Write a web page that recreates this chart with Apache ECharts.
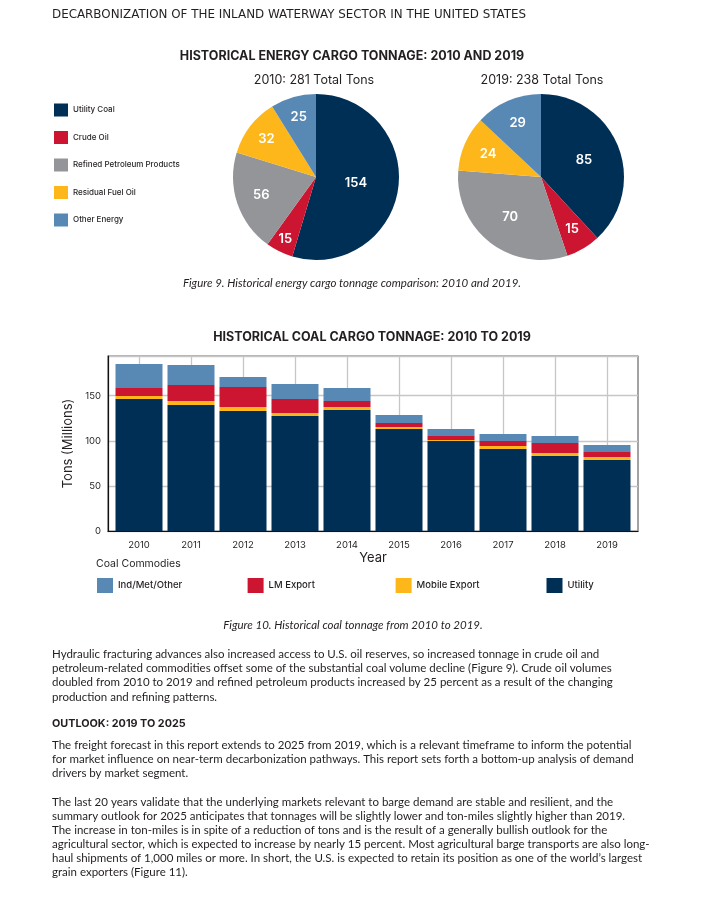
<!DOCTYPE html>
<html><head><meta charset="utf-8">
<script src="https://cdn.jsdelivr.net/npm/echarts@6/dist/echarts.min.js"></script>
<style>html,body{margin:0;padding:0;background:#fff;}#c{width:707px;height:909px;}</style>
</head><body><div id="c"></div>
<script>
// ---- data ----
const energyCategories = ['Utility Coal', 'Crude Oil', 'Refined Petroleum Products', 'Residual Fuel Oil', 'Other Energy'];
const tons2010 = [154, 15, 56, 32, 25];
const tons2019 = [85, 15, 70, 24, 29];

const years = ['2010', '2011', '2012', '2013', '2014', '2015', '2016', '2017', '2018', '2019'];
const utility = [146.3, 139.7, 133.0, 127.5, 134.1, 113.1, 99.8, 90.9, 83.1, 78.7];
const mobileExport = [3.4, 4.4, 4.5, 3.3, 3.4, 2.2, 1.1, 3.3, 3.4, 3.3];
const lmExport = [8.8, 17.8, 22.1, 15.5, 6.6, 4.4, 4.4, 5.6, 11.1, 5.6];
const indMetOther = [26.6, 22.1, 11.1, 16.7, 14.4, 8.9, 7.8, 7.7, 7.7, 7.7];
const yTicks = [0, 50, 100, 150];

// ---- styles / layout ----
const C = { navy: '#002F56', red: '#CC1531', gray: '#949599', yellow: '#FDB71A', blue: '#5889B5' };
const pieColors = [C.navy, C.red, C.gray, C.yellow, C.blue];
const TXT = '#231f20';
const GRIDLINE = '#c6c6c6';
const HEAD = 'Inter, "Open Sans", sans-serif';
const WIDE = '"DejaVu Sans", Inter, sans-serif';
const BODY = 'Lato, "Open Sans", sans-serif';
const R = 83;
const labelFrac2010 = [0.45, 0.8, 0.66, 0.72, 0.72];
const labelFrac2019 = [0.52, 0.7, 0.57, 0.66, 0.67];

function pieSeries(values, center, fracs) {
  const out = [{
    type: 'pie', center: center, radius: [0, R], startAngle: 90, clockwise: true,
    silent: true, label: { show: false }, labelLine: { show: false },
    data: values.map((v, i) => ({ name: energyCategories[i], value: v, itemStyle: { color: pieColors[i] } }))
  }];
  values.forEach((_, k) => {
    out.push({
      type: 'pie', center: center, radius: [0, 2 * fracs[k] * R], startAngle: 90, clockwise: true,
      silent: true, z: 5, labelLine: { show: false },
      itemStyle: { color: 'rgba(0,0,0,0)' },
      data: values.map((v, i) => ({
        name: energyCategories[i], value: v,
        itemStyle: { color: 'rgba(0,0,0,0)' },
        label: { show: i === k, position: 'inside', formatter: '{c}', color: '#fff', fontSize: 13, fontWeight: 600, fontFamily: HEAD }
      }))
    });
  });
  return out;
}

function textEl(x, y, text, font) {
  return {
    type: 'text', x: x, y: y, silent: true,
    style: Object.assign({ text: text, fill: TXT, align: 'left', verticalAlign: 'middle' }, font)
  };
}

const body = { fontFamily: BODY, fontSize: 11.5 };
const graphics = [];
graphics.push(textEl(52, 15, 'DECARBONIZATION OF THE INLAND WATERWAY SECTOR IN THE UNITED STATES', { fontFamily: WIDE, fontSize: 11.9 }));
graphics.push(textEl(352, 56, 'HISTORICAL ENERGY CARGO TONNAGE: 2010 AND 2019', { fontFamily: HEAD, fontSize: 12.5, fontWeight: 700, align: 'center' }));
graphics.push(textEl(314, 80, '2010: 281 Total Tons', { fontFamily: HEAD, fontSize: 12.5, align: 'center' }));
graphics.push(textEl(542, 80, '2019: 238 Total Tons', { fontFamily: HEAD, fontSize: 12.5, align: 'center' }));
graphics.push(textEl(352, 283, 'Figure 9. Historical energy cargo tonnage comparison: 2010 and 2019.', { fontFamily: BODY, fontSize: 11.5, fontStyle: 'italic', align: 'center' }));
graphics.push(textEl(372, 337, 'HISTORICAL COAL CARGO TONNAGE: 2010 TO 2019', { fontFamily: HEAD, fontSize: 12.5, fontWeight: 700, align: 'center' }));
graphics.push(textEl(96, 564, 'Coal Commodies', { fontFamily: HEAD, fontSize: 10.5 }));
graphics.push(textEl(353, 625, 'Figure 10. Historical coal tonnage from 2010 to 2019.', { fontFamily: BODY, fontSize: 11.5, fontStyle: 'italic', align: 'center' }));

const p1 = [
  'Hydraulic fracturing advances also increased access to U.S. oil reserves, so increased tonnage in crude oil and',
  'petroleum-related commodities offset some of the substantial coal volume decline (Figure 9). Crude oil volumes',
  'doubled from 2010 to 2019 and refined petroleum products increased by 25 percent as a result of the changing',
  'production and refining patterns.'
];
const p2 = [
  'The freight forecast in this report extends to 2025 from 2019, which is a relevant timeframe to inform the potential',
  'for market influence on near-term decarbonization pathways. This report sets forth a bottom-up analysis of demand',
  'drivers by market segment.'
];
const p3 = [
  'The last 20 years validate that the underlying markets relevant to barge demand are stable and resilient, and the',
  'summary outlook for 2025 anticipates that tonnages will be slightly lower and ton-miles slightly higher than 2019.',
  'The increase in ton-miles is in spite of a reduction of tons and is the result of a generally bullish outlook for the',
  'agricultural sector, which is expected to increase by nearly 15 percent. Most agricultural barge transports are also long-',
  'haul shipments of 1,000 miles or more. In short, the U.S. is expected to retain its position as one of the world\u2019s largest',
  'grain exporters (Figure 11).'
];
p1.forEach((l, i) => graphics.push(textEl(52, 654 + i * 14.3, l, body)));
graphics.push(textEl(52, 724, 'OUTLOOK: 2019 TO 2025', { fontFamily: HEAD, fontSize: 10.8, fontWeight: 700 }));
p2.forEach((l, i) => graphics.push(textEl(52, 745 + i * 14.3, l, body)));
p3.forEach((l, i) => graphics.push(textEl(52, 802.7 + i * 14, l, body)));

const barLegendPos = [97, 247.6, 395.6, 546.5];
const barNames = ['Ind/Met/Other', 'LM Export', 'Mobile Export', 'Utility'];
const barLegends = barNames.map((n, i) => ({
  data: [n], left: barLegendPos[i], top: 578, padding: 0, itemWidth: 16, itemHeight: 15, icon: 'rect',
  selectedMode: false, textStyle: { fontFamily: HEAD, fontSize: 9.5, color: TXT, fontWeight: 500 }
}));

// helper grid spanning first to last category centre, for the vertical gridlines
const catStep = 520 / years.length;

const option = {
  animation: false,
  backgroundColor: '#fff',
  legend: [{
    data: energyCategories, orient: 'vertical', left: 54, top: 103.5, padding: 0, itemWidth: 14, itemHeight: 13,
    itemGap: 14.5, icon: 'rect', selectedMode: false,
    textStyle: { fontFamily: HEAD, fontSize: 8, color: TXT, fontWeight: 500 }
  }].concat(barLegends),
  grid: [
    { left: 108, top: 356, width: 530, height: 175, show: true, borderColor: '#666', borderWidth: 1.2 },
    { left: 113, top: 356, width: 520, height: 175 },
    { left: 113 + catStep / 2, top: 356, width: 520 - catStep, height: 175 }
  ],
  xAxis: [
    {
      gridIndex: 0, type: 'value', min: 0, max: 1,
      axisLine: { show: true, lineStyle: { color: '#111', width: 1.2 } }, axisTick: { show: false },
      axisLabel: { show: false }, splitLine: { show: false }
    },
    {
      gridIndex: 1, type: 'category', data: years,
      axisLine: { show: false }, axisTick: { show: false },
      axisLabel: { fontFamily: HEAD, fontSize: 9.5, color: TXT, margin: 9 },
      name: 'Year', nameLocation: 'middle', nameGap: 21, nameTextStyle: { fontFamily: HEAD, fontSize: 13, color: TXT },
      splitLine: { show: false }
    },
    {
      gridIndex: 2, type: 'value', min: 0, max: years.length - 1, interval: 1,
      axisLine: { show: false }, axisTick: { show: false }, axisLabel: { show: false },
      splitLine: { show: true, lineStyle: { color: GRIDLINE, width: 1.3 } }
    }
  ],
  yAxis: [
    {
      gridIndex: 0, type: 'value', min: 0, max: 194, interval: 50,
      axisLine: { show: true, lineStyle: { color: '#111', width: 1.2 } }, axisTick: { show: false },
      axisLabel: { fontFamily: HEAD, fontSize: 9.5, color: TXT, margin: 7, formatter: v => yTicks.indexOf(v) >= 0 ? String(v) : '' },
      splitLine: { lineStyle: { color: GRIDLINE, width: 1.3 } },
      name: 'Tons (Millions)', nameLocation: 'middle', nameRotate: 90, nameGap: 32,
      nameTextStyle: { fontFamily: HEAD, fontSize: 13, color: TXT }
    },
    { gridIndex: 1, type: 'value', min: 0, max: 194, show: false },
    {
      gridIndex: 2, type: 'value', min: 0, max: 1, axisLine: { show: false }, axisTick: { show: false },
      axisLabel: { show: false }, splitLine: { show: false }
    }
  ],
  graphic: graphics,
  series: [
    { name: 'Utility', type: 'bar', xAxisIndex: 1, yAxisIndex: 1, stack: 'coal', barWidth: 47, z: 3, itemStyle: { color: C.navy }, data: utility },
    { name: 'Mobile Export', type: 'bar', xAxisIndex: 1, yAxisIndex: 1, stack: 'coal', barWidth: 47, z: 3, itemStyle: { color: C.yellow }, data: mobileExport },
    { name: 'LM Export', type: 'bar', xAxisIndex: 1, yAxisIndex: 1, stack: 'coal', barWidth: 47, z: 3, itemStyle: { color: C.red }, data: lmExport },
    { name: 'Ind/Met/Other', type: 'bar', xAxisIndex: 1, yAxisIndex: 1, stack: 'coal', barWidth: 47, z: 3, itemStyle: { color: C.blue }, data: indMetOther }
  ].concat(pieSeries(tons2010, [316, 177], labelFrac2010)).concat(pieSeries(tons2019, [541, 177], labelFrac2019))
};

const chart = echarts.init(document.getElementById('c'), null, { renderer: 'canvas' });
chart.setOption(option);
</script>
</body></html>
